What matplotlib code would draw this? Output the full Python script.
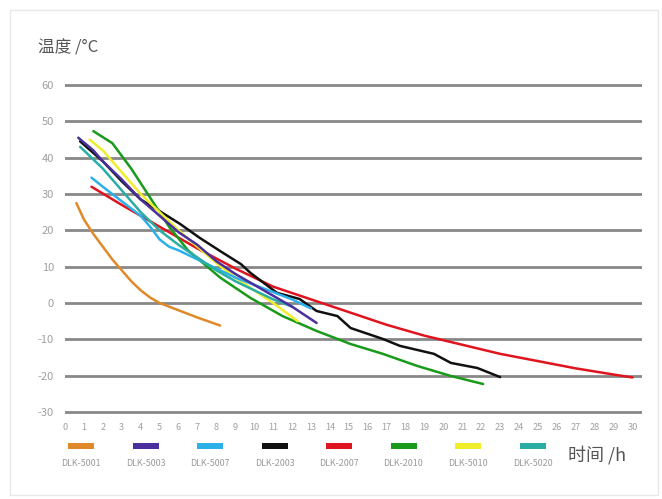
import matplotlib.pyplot as plt
from matplotlib.patches import Rectangle

plt.rcParams['font.family'] = ['Noto Sans CJK SC', 'DejaVu Sans']
plt.rcParams['axes.unicode_minus'] = False

W, H = 662, 499

# cooling curves, hours vs temperature
h_5001 = [0.6, 1, 1.5, 2, 2.5, 3, 3.5, 4, 4.5, 5, 6, 7, 8.2]
t_5001 = [27.5, 23, 19, 15.5, 12, 9, 6, 3.5, 1.5, 0, -2, -4, -6.2]

h_5003 = [0.7, 1.5, 2, 3, 4, 5, 6, 7, 8, 9, 10, 11, 12, 13.3]
t_5003 = [45.5, 42, 39, 34, 28.5, 24, 19.5, 16, 11.5, 8, 5, 2, -1, -5.5]

h_5007 = [1.4, 2, 3, 4, 4.5, 5, 5.5, 6, 7, 8, 9, 10, 11, 12, 13]
t_5007 = [34.5, 32, 28, 24, 21, 17.5, 15.5, 14.5, 12, 9.5, 7, 5, 3, 1, -1.5]

h_2003 = [0.8, 2, 3, 4, 5, 6.1, 7.1, 8.2, 9.3, 9.8, 11.2, 12.4, 13.3, 14.4,
          15.1, 16.8, 17.7, 19.5, 20.4, 21.8, 23]
t_2003 = [44.5, 39, 33.5, 28.5, 25.3, 21.7, 18, 14.3, 10.7, 8.3, 2.8, 1.1,
          -2.2, -3.6, -6.9, -9.9, -11.8, -14, -16.5, -17.9, -20.4]

h_2007 = [1.4, 3, 5, 7, 9, 11, 13, 15, 17, 19, 21, 23, 25, 27, 29, 30]
t_2007 = [32, 27, 21, 15, 9.5, 4.5, 1, -2.5, -6, -9, -11.5, -14, -16, -18,
          -19.7, -20.5]

h_2010 = [1.5, 2.5, 3.5, 4.5, 5.5, 6.5, 8.2, 9.8, 11.5, 13.3, 15.1, 16.8,
          18.6, 20.4, 22.1]
t_2010 = [47.3, 44, 37, 29, 21, 14.5, 7, 1.4, -3.6, -7.7, -11.3, -14, -17.3,
          -20.1, -22.3]

h_5010 = [1.3, 2, 3, 4, 5, 6, 7, 8, 9, 10, 11, 12.3]
t_5010 = [45, 42, 36, 30, 25, 20, 15.5, 11, 7, 3.5, 0, -5]

h_5020 = [0.8, 2, 3, 4, 5, 6, 7, 8, 9, 10, 11, 12]
t_5020 = [43, 37, 31, 25, 20, 16, 12.5, 9, 6, 3.5, 1, -1]

names = ['DLK-5001', 'DLK-5003', 'DLK-5007', 'DLK-2003',
         'DLK-2007', 'DLK-2010', 'DLK-5010', 'DLK-5020']
colors = ['#e0892a', '#4a2f9e', '#2cb0ea', '#111111',
          '#e0141e', '#1a9a1a', '#f0ee2a', '#2aaea4']
series = [(h_5001, t_5001), (h_5003, t_5003), (h_5007, t_5007),
          (h_2003, t_2003), (h_2007, t_2007), (h_2010, t_2010),
          (h_5010, t_5010), (h_5020, t_5020)]
# drawing order, back to front
order = [4, 3, 0, 5, 6, 2, 7, 1]

y_ticks = list(range(-30, 61, 10))
x_ticks = list(range(0, 31))

fig = plt.figure(figsize=(W / 100, H / 100), dpi=100)
fig.patch.set_facecolor('white')

# faint card border
fig.patches.append(Rectangle((10 / W, 4 / H), 648 / W, 485 / H,
                             transform=fig.transFigure, fill=False,
                             edgecolor='#e8e8e8', linewidth=1))

ax = fig.add_axes([65 / W, 1 - 415.6 / H, 577 / W, 334.2 / H])
ax.set_xlim(0, 30.5)
ax.set_ylim(-31, 61)
for s in ax.spines.values():
    s.set_visible(False)
ax.set_yticks(y_ticks)
ax.set_xticks(x_ticks)
ax.tick_params(length=0, colors='#a0a0a0')
ax.tick_params(axis='y', labelsize=8, pad=8)
ax.tick_params(axis='x', labelsize=6.6, pad=5)
ax.yaxis.grid(True, color='#888888', linewidth=2)
ax.set_axisbelow(True)

for i in order:
    hh, tt = series[i]
    ax.plot(hh, tt, color=colors[i], linewidth=1.8, solid_capstyle='round')

fig.text(38 / W, 1 - 48 / H, '温度 /°C', fontsize=12, color='#555555',
         ha='left', va='center')
fig.text(568 / W, 1 - 455 / H, '时间 /h', fontsize=13, color='#555555',
         ha='left', va='center')

# legend: swatch above label
for i, name in enumerate(names):
    cx = 81 + 64.5 * i
    fig.patches.append(Rectangle(((cx - 13) / W, 1 - 449 / H), 26 / W, 6 / H,
                                 transform=fig.transFigure,
                                 facecolor=colors[i], edgecolor='none'))
    fig.text(cx / W, 1 - 463 / H, name, fontsize=6.4, color='#9a9a9a',
             ha='center', va='center')

fig.savefig('out.png', dpi=100)
